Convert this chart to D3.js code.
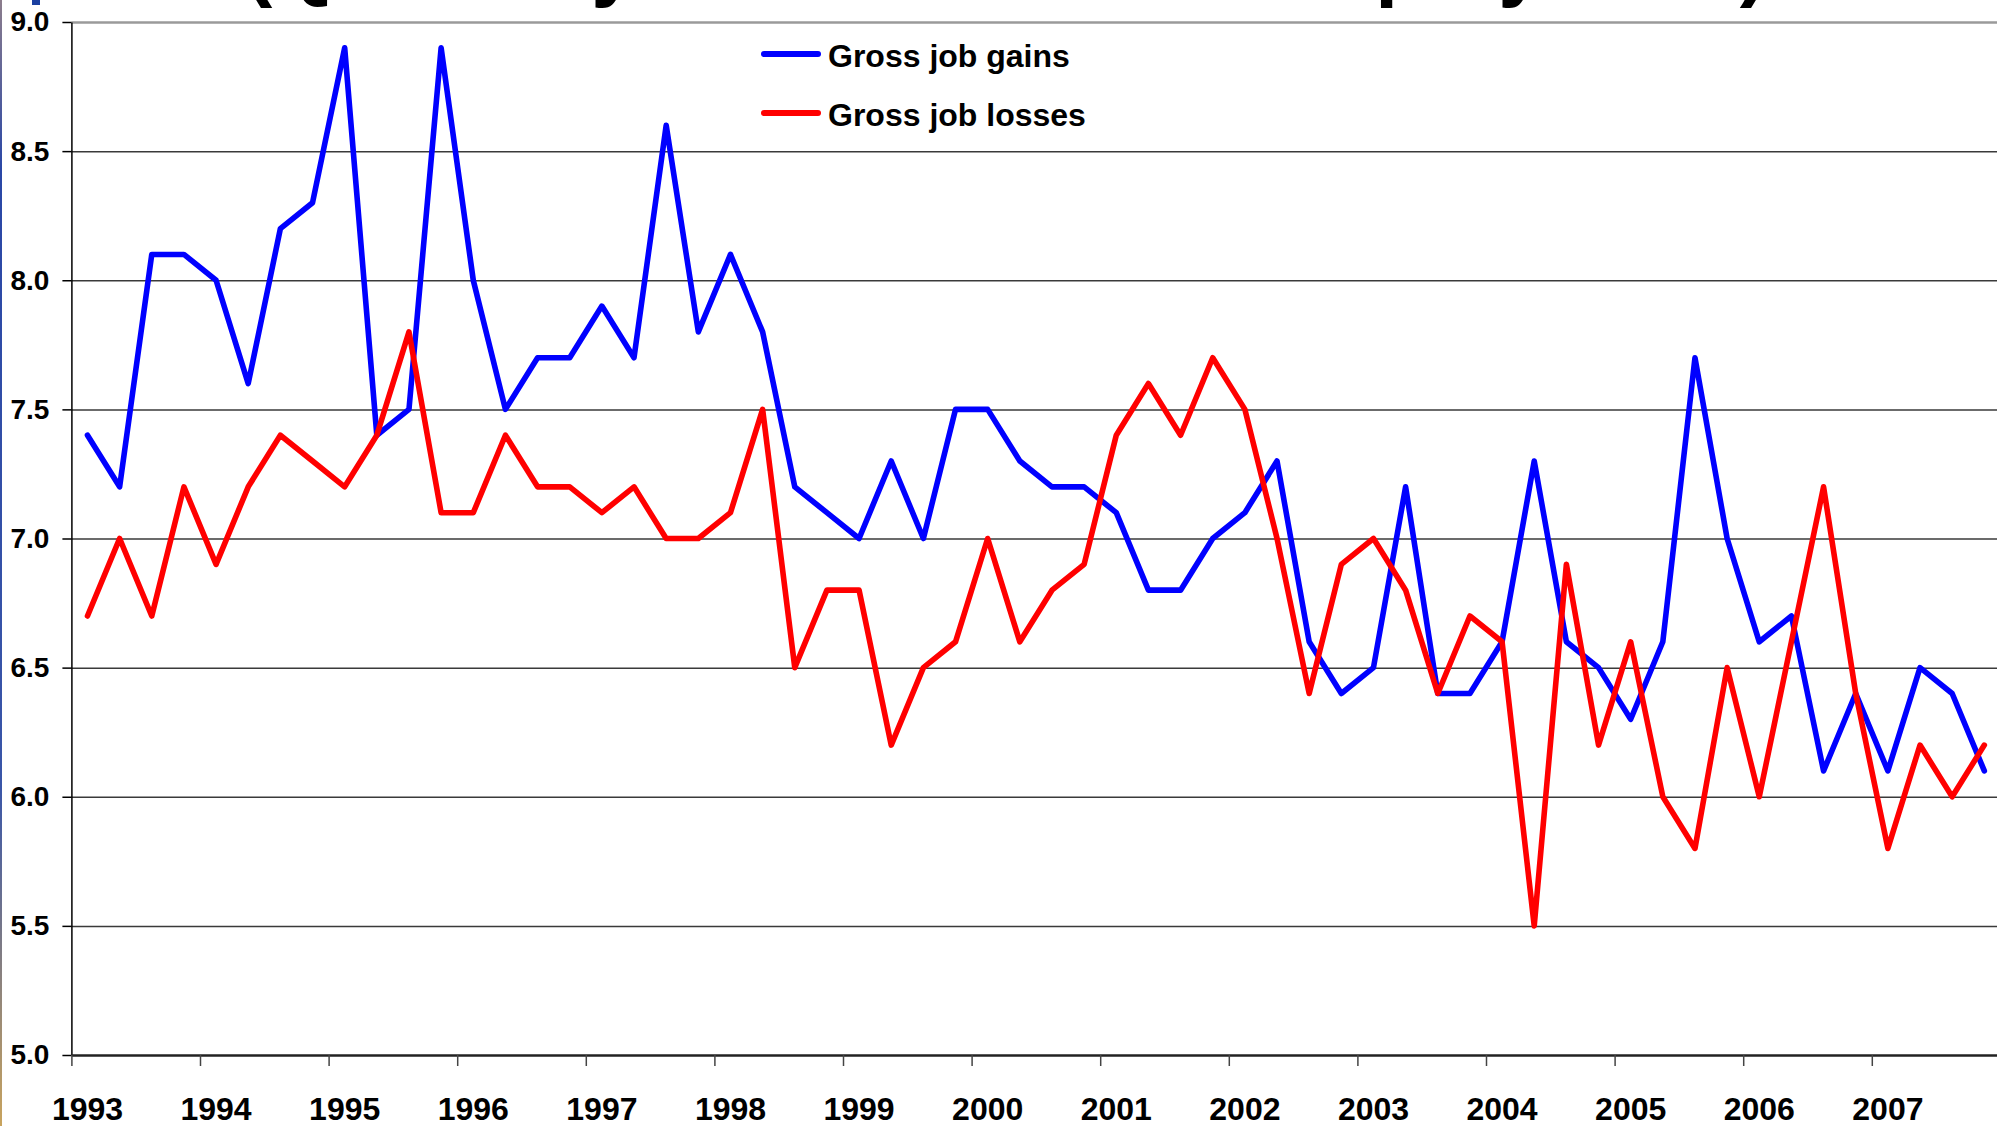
<!DOCTYPE html>
<html><head><meta charset="utf-8">
<script src="https://cdn.jsdelivr.net/npm/d3@7"></script>
<style>html,body{margin:0;padding:0;background:#fff;overflow:hidden}</style>
</head><body><svg id="c" width="1997" height="1126"></svg>
<script>
// ---- data ----
const years = [1993,1994,1995,1996,1997,1998,1999,2000,2001,2002,2003,2004,2005,2006,2007];
const quarterNames = ["Q1","Q2","Q3","Q4"];
const categories = years.flatMap(yr => quarterNames.map(q => yr + q));
const grossJobGains = [
  7.4,7.2,8.1,8.1, 8.0,7.6,8.2,8.3, 8.9,7.4,7.5,8.9, 8.0,7.5,7.7,7.7,
  7.9,7.7,8.6,7.8, 8.1,7.8,7.2,7.1, 7.0,7.3,7.0,7.5, 7.5,7.3,7.2,7.2,
  7.1,6.8,6.8,7.0, 7.1,7.3,6.6,6.4, 6.5,7.2,6.4,6.4, 6.6,7.3,6.6,6.5,
  6.3,6.6,7.7,7.0, 6.6,6.7,6.1,6.4, 6.1,6.5,6.4,6.1
];
const grossJobLosses = [
  6.7,7.0,6.7,7.2, 6.9,7.2,7.4,7.3, 7.2,7.4,7.8,7.1, 7.1,7.4,7.2,7.2,
  7.1,7.2,7.0,7.0, 7.1,7.5,6.5,6.8, 6.8,6.2,6.5,6.6, 7.0,6.6,6.8,6.9,
  7.4,7.6,7.4,7.7, 7.5,7.0,6.4,6.9, 7.0,6.8,6.4,6.7, 6.6,5.5,6.9,6.2,
  6.6,6.0,5.8,6.5, 6.0,6.6,7.2,6.4, 5.8,6.2,6.0,6.2
];
const yTicks = [5.0,5.5,6.0,6.5,7.0,7.5,8.0,8.5,9.0];
const seriesNames = ["Gross job gains","Gross job losses"];
const seriesColors = ["#0000ff","#ff0000"];
const titleText = "(Quarterly rates as a % of employment)";

// ---- layout ----
const svg = d3.select("#c");
const FONT = "Arial, 'Liberation Sans', Helvetica, sans-serif";
const plotLeft = 71.4, bandW = 32.15, plotRight = plotLeft + categories.length * bandW;
const plotTop = 22, plotBottom = 1055;

const x = d3.scaleBand().domain(categories).range([plotLeft, plotRight]).paddingInner(0).paddingOuter(0);
const xYear = d3.scaleLinear().domain([years[0], years[years.length-1] + 1]).range([plotLeft, plotRight]);
const y = d3.scaleLinear().domain([5, 9]).range([plotBottom, plotTop]);

// left edge decoration
const defs = svg.append("defs");
const g1 = defs.append("linearGradient").attr("id","edge").attr("x1",0).attr("y1",0).attr("x2",0).attr("y2",1);
g1.append("stop").attr("offset","0%").attr("stop-color","#8c7d8c");
g1.append("stop").attr("offset","15%").attr("stop-color","#2a47a6");
g1.append("stop").attr("offset","70%").attr("stop-color","#3a56a8");
g1.append("stop").attr("offset","100%").attr("stop-color","#c9a45e");
svg.append("rect").attr("x",0).attr("y",0).attr("width",2).attr("height",1126).attr("fill","url(#edge)");
svg.append("rect").attr("x",32).attr("y",0).attr("width",8).attr("height",5).attr("fill","#1a3fa0");

// title (mostly above the visible area, as in the cropped reference)
svg.append("text").attr("x", 1006).attr("y", -9)
  .attr("text-anchor","middle").attr("font-family",FONT).attr("font-weight","bold")
  .attr("font-size",82).attr("fill","#000").text(titleText);

// gridlines
const grid = svg.append("g").attr("transform",`translate(${plotLeft},0)`)
  .call(d3.axisLeft(y).tickValues(yTicks.filter(v => v > 5 && v < 9)).tickSize(-(plotRight-plotLeft)).tickFormat(""));
grid.select(".domain").remove();
grid.selectAll("line").attr("stroke","#3a3a3a").attr("stroke-width",1.5);

// top border line at 9.0
const topG = svg.append("g").attr("transform",`translate(${plotLeft},0)`)
  .call(d3.axisLeft(y).tickValues([9]).tickSize(-(plotRight-plotLeft)).tickFormat(""));
topG.select(".domain").remove();
topG.selectAll("line").attr("stroke","#9a9a9a").attr("stroke-width",2.5);

// y axis
const yAx = svg.append("g").attr("transform",`translate(${plotLeft},0)`)
  .call(d3.axisLeft(y).tickValues(yTicks).tickFormat(d3.format(".1f")).tickSize(9).tickSizeOuter(0).tickPadding(13));
yAx.select(".domain").attr("stroke","#000").attr("stroke-width",1.5);
yAx.selectAll(".tick line").attr("stroke","#000").attr("stroke-width",1.5);
yAx.selectAll("text").attr("font-family",FONT).attr("font-weight","bold").attr("font-size",28).attr("fill","#000");

// x axis ticks at year boundaries
const xAx = svg.append("g").attr("transform",`translate(0,${plotBottom})`)
  .call(d3.axisBottom(xYear).tickValues(years).tickFormat("").tickSize(11).tickSizeOuter(0));
xAx.select(".domain").attr("stroke","#222").attr("stroke-width",2.5);
xAx.selectAll(".tick line").attr("stroke","#444").attr("stroke-width",1.5);

// x labels centered on first quarter of each year
const xLab = svg.append("g").attr("transform",`translate(0,${plotBottom})`)
  .call(d3.axisBottom(x).tickValues(years.map(yr => yr + "Q1")).tickFormat(d => d.slice(0,4)).tickSize(0).tickPadding(42));
xLab.select(".domain").remove();
xLab.selectAll("text").attr("font-family",FONT).attr("font-weight","bold").attr("font-size",32).attr("fill","#000");

// series lines
const line = d3.line().x((d,i) => x(categories[i]) + x.bandwidth()/2).y(d => y(d));
[grossJobGains, grossJobLosses].forEach((s, k) => {
  svg.append("path").datum(s).attr("d", line)
    .attr("fill","none").attr("stroke", seriesColors[k]).attr("stroke-width",5.6)
    .attr("stroke-linejoin","round").attr("stroke-linecap","round");
});

// legend
const legendY = [54, 113];
seriesNames.forEach((name, k) => {
  svg.append("line").attr("x1",764).attr("x2",818).attr("y1",legendY[k]).attr("y2",legendY[k])
    .attr("stroke",seriesColors[k]).attr("stroke-width",6).attr("stroke-linecap","round");
  svg.append("text").attr("x",828).attr("y",legendY[k] + 13)
    .attr("font-family",FONT).attr("font-weight","bold").attr("font-size",32).attr("fill","#000").text(name);
});
</script></body></html>
